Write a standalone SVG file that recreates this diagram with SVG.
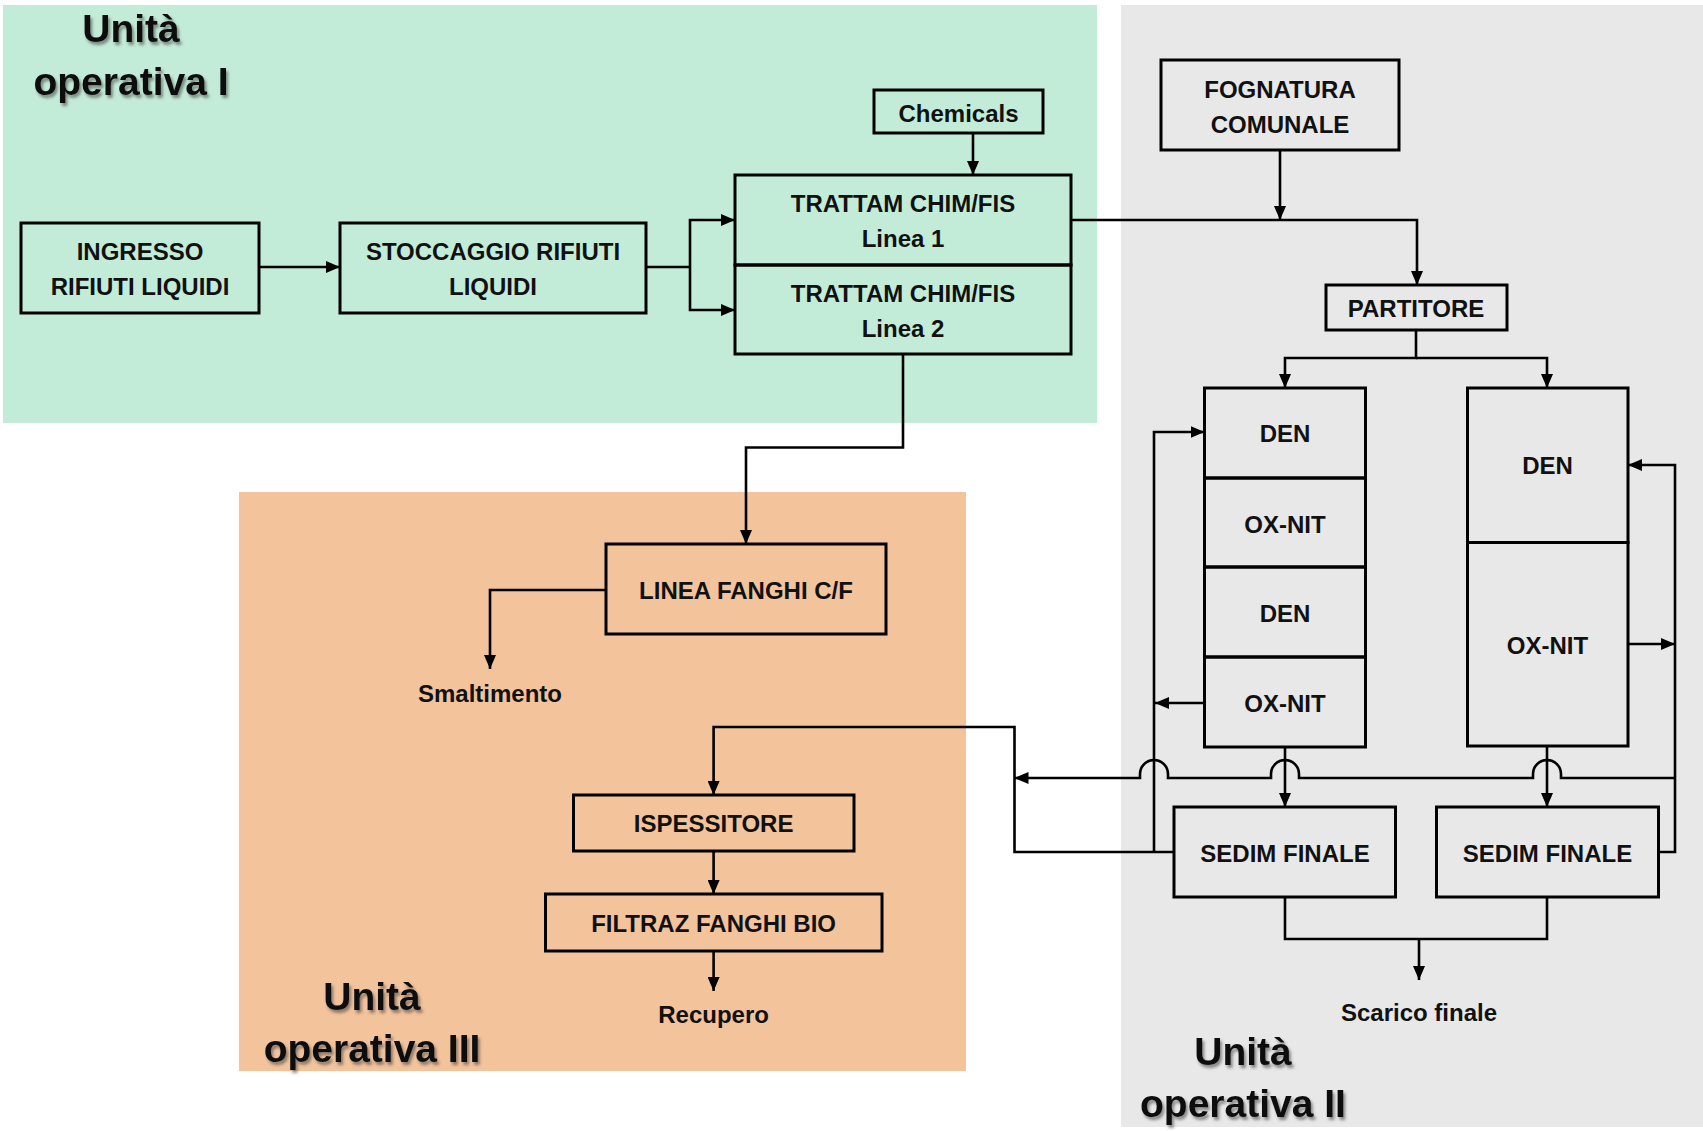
<svg xmlns="http://www.w3.org/2000/svg" width="1703" height="1131" viewBox="0 0 1703 1131">
<defs>
<style>
.box{fill:none;stroke:#000;stroke-width:3}
.t{font-family:"Liberation Sans",Arial,sans-serif;font-weight:bold;font-size:24px;text-anchor:middle;fill:#111}
.h{font-family:"Liberation Sans",Arial,sans-serif;font-weight:bold;font-size:39px;text-anchor:middle;fill:#111;filter:url(#sh)}
.c{fill:none;stroke:#000;stroke-width:2.6}
.a{marker-end:url(#ar)}
</style>
<marker id="ar" markerUnits="userSpaceOnUse" markerWidth="15" markerHeight="12" refX="14" refY="6" orient="auto">
<path d="M0,0 L14,6 L0,12 z" fill="#000"/>
</marker>
<filter id="sh" x="-10%" y="-20%" width="130%" height="150%">
<feDropShadow dx="2" dy="3" stdDeviation="1.5" flood-color="#444" flood-opacity="0.6"/>
</filter>
</defs>
<g id="regions">
<rect x="3" y="5" width="1094" height="418" fill="#C3ECD8"/>
<rect x="1121" y="5" width="582" height="1122" fill="#E8E8E8"/>
<rect x="239" y="492" width="727" height="579" fill="#F3C39C"/>
<text class="h" x="131" y="42">Unità</text>
<text class="h" x="131" y="95">operativa I</text>
<text class="h" x="372" y="1010">Unità</text>
<text class="h" x="372" y="1062">operativa III</text>
<text class="h" x="1243" y="1065">Unità</text>
<text class="h" x="1243" y="1117">operativa II</text>
</g>
<g id="connectors">
<path class="c a" d="M259,267 H340"/>
<path class="c" d="M646,267 H690"/>
<path class="c a" d="M690,267 V220 H735"/>
<path class="c a" d="M690,267 V310 H735"/>
<path class="c a" d="M973,133 V175"/>
<path class="c a" d="M1071,220 H1417 V285"/>
<path class="c a" d="M1280,150 V220"/>
<path class="c a" d="M1416,330 V358 H1285 V388"/>
<path class="c a" d="M1416,358 H1547 V388"/>
<path class="c a" d="M903,354 V447.5 H746 V544"/>
<path class="c a" d="M606,590 H490 V669"/>
<path class="c a" d="M1174,852 H1014.5 V727 H713.6 V795"/>
<path class="c a" d="M1154,852 V432 H1204.5"/>
<path class="c a" d="M1204.5,703 H1155"/>
<path class="c a" d="M1285,747 V807"/>
<path class="c a" d="M1547,746 V807"/>
<path class="c a" d="M1658,852 H1675 V465 H1628"/>
<path class="c a" d="M1628,644 H1675"/>
<path class="c a" d="M1675,778 H1561 V774 A14,14 0 0 0 1533,774 V778 H1299 V774 A14,14 0 0 0 1271,774 V778 H1168 V774 A14,14 0 0 0 1140,774 V778 H1014.5"/>
<path class="c" d="M1285,897 V939 H1547 V897"/>
<path class="c a" d="M1419,939 V980"/>
<path class="c a" d="M713.6,851 V894"/>
<path class="c a" d="M713.6,951 V991"/>
</g>
<g id="ingresso"><rect class="box" x="21" y="223" width="238" height="90"/><text class="t" x="140" y="259.5">INGRESSO</text><text class="t" x="140" y="294.5">RIFIUTI LIQUIDI</text></g>
<g id="stoccaggio"><rect class="box" x="340" y="223" width="306" height="90"/><text class="t" x="493" y="259.5">STOCCAGGIO RIFIUTI</text><text class="t" x="493" y="294.5">LIQUIDI</text></g>
<g id="chemicals"><rect class="box" x="874" y="90" width="169" height="43"/><text class="t" x="958.5" y="121.5">Chemicals</text></g>
<g id="trattam1"><rect class="box" x="735" y="175" width="336" height="90"/><text class="t" x="903" y="211.5">TRATTAM CHIM/FIS</text><text class="t" x="903" y="246.5">Linea 1</text></g>
<g id="trattam2"><rect class="box" x="735" y="265" width="336" height="89"/><text class="t" x="903" y="301.5">TRATTAM CHIM/FIS</text><text class="t" x="903" y="336.5">Linea 2</text></g>
<g id="fognatura"><rect class="box" x="1161" y="60" width="238" height="90"/><text class="t" x="1280" y="97.5">FOGNATURA</text><text class="t" x="1280" y="132.5">COMUNALE</text></g>
<g id="partitore"><rect class="box" x="1326" y="285" width="181" height="45"/><text class="t" x="1416" y="316.5">PARTITORE</text></g>
<g id="linea-sx">
<rect class="box" x="1204.5" y="388" width="161" height="90"/><text class="t" x="1285" y="441.5">DEN</text>
<rect class="box" x="1204.5" y="478" width="161" height="89"/><text class="t" x="1285" y="532.5">OX-NIT</text>
<rect class="box" x="1204.5" y="567" width="161" height="90"/><text class="t" x="1285" y="621.5">DEN</text>
<rect class="box" x="1204.5" y="657" width="161" height="90"/><text class="t" x="1285" y="711.5">OX-NIT</text>
</g>
<g id="linea-dx">
<rect class="box" x="1467.5" y="388" width="160.5" height="154.5"/><text class="t" x="1547.5" y="474">DEN</text>
<rect class="box" x="1467.5" y="542.5" width="160.5" height="203.5"/><text class="t" x="1547.5" y="653.5">OX-NIT</text>
</g>
<g id="sedim-sx"><rect class="box" x="1174" y="807" width="221.5" height="90"/><text class="t" x="1285" y="861.5">SEDIM FINALE</text></g>
<g id="sedim-dx"><rect class="box" x="1436.5" y="807" width="222" height="90"/><text class="t" x="1547.5" y="861.5">SEDIM FINALE</text></g>
<g id="scarico"><text class="t" x="1419" y="1021">Scarico finale</text></g>
<g id="linea-fanghi"><rect class="box" x="606" y="544" width="280" height="90"/><text class="t" x="746" y="598.5">LINEA FANGHI C/F</text></g>
<g id="smaltimento"><text class="t" x="490" y="702">Smaltimento</text></g>
<g id="ispessitore"><rect class="box" x="573.5" y="795" width="280.5" height="56"/><text class="t" x="713.6" y="831.5">ISPESSITORE</text></g>
<g id="filtraz"><rect class="box" x="545.5" y="894" width="336.5" height="57"/><text class="t" x="713.6" y="931.5">FILTRAZ FANGHI BIO</text></g>
<g id="recupero"><text class="t" x="713.6" y="1023">Recupero</text></g>
</svg>
